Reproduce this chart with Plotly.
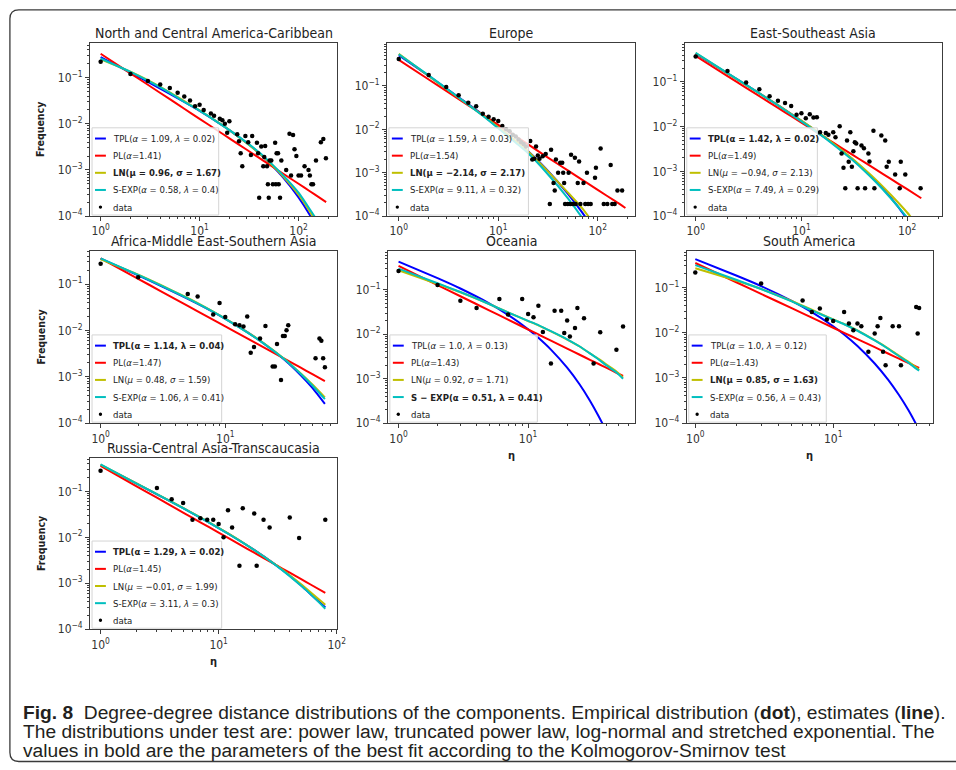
import plotly.graph_objects as go

W, H = 956, 770

# ------------------------------------------------------------------ data
TITLES = ["North and Central America-Caribbean", "Europe", "East-Southeast Asia",
          "Africa-Middle East-Southern Asia", "Oceania", "South America",
          "Russia-Central Asia-Transcaucasia"]

FIT_NAMES = ["TPL", "PL", "LN", "S-EXP"]
FIT_COLORS = ["#0000ff", "#ff0000", "#bfbf00", "#00bfbf"]

# --- North and Central America-Caribbean
NCA_DOT_X = [1, 2, 3, 4, 5, 6, 7, 8, 9, 10, 11, 13, 14, 16, 17, 18, 19, 20, 24, 25, 26, 27, 29, 31, 33, 34,
             38, 39, 40, 42, 44, 45, 46, 48, 49, 50, 51, 53, 55, 58, 59, 60, 62, 63, 65, 67, 75, 81, 84, 88,
             91, 95, 100, 106, 115, 126, 130, 135, 140, 150, 168, 178, 189]
NCA_DOT_Y = [0.22, 0.12, 0.085, 0.071, 0.060, 0.047, 0.039, 0.032, 0.024, 0.026, 0.020, 0.0167, 0.015,
             0.0128, 0.012, 0.010, 0.0064, 0.0114, 0.0059, 0.0042, 0.0023, 0.0012, 0.0054, 0.0040, 0.0021,
             0.0054, 0.0039, 0.0023, 0.00025, 0.0032, 0.0012, 0.0019, 0.0033, 0.0012, 0.00049, 0.00025,
             0.0016, 0.0016, 0.00049, 0.0039, 0.00049, 0.0023, 0.0023, 0.00049, 0.00025, 0.0016, 0.001,
             0.0061, 0.00076, 0.0057, 0.0028, 0.002, 0.00076, 0.00076, 0.0012, 0.001, 0.00076, 0.00049,
             0.00049, 0.0016, 0.0040, 0.0047, 0.0018]
NCA_FIT_X = [1, 2, 3, 5, 7, 10, 15, 20, 30, 40, 50, 70, 100, 130, 160, 190]
NCA_TPL = [0.279, 0.129, 0.0811, 0.0446, 0.0297, 0.019, 0.011, 0.0073, 0.00384, 0.0023, 0.00147, 0.000685,
           0.000254, 0.000105, 0.000046, 0.000021]
NCA_PL = [0.33, 0.124, 0.0701, 0.0341, 0.0212, 0.0128, 0.00725, 0.00483, 0.00273, 0.00182, 0.00133,
          0.000826, 0.0005, 0.000345, 0.000257, 0.0002]
NCA_LN = [0.25, 0.135, 0.088, 0.048, 0.031, 0.0195, 0.0111, 0.0073, 0.0038, 0.0023, 0.0015, 0.00072,
          0.00029, 0.000125, 0.000058, 0.000028]
NCA_SEXP = [0.26, 0.133, 0.086, 0.047, 0.030, 0.0192, 0.011, 0.0073, 0.0039, 0.0024, 0.00155, 0.00076,
            0.00032, 0.00014, 0.00007, 0.000035]

# --- Europe
EUR_DOT_X = [1, 2, 3, 4, 5, 6, 7, 8, 9, 10, 11, 12, 13, 14, 15, 16, 17, 18, 19, 21, 22, 23, 24, 25, 26, 28,
             30, 33, 34, 36, 37, 38, 40, 42, 44, 45, 46, 47, 50, 51, 53, 54, 56, 59, 60, 63, 65, 67, 72, 75,
             78, 80, 85, 94, 96, 107, 115, 125, 135, 140, 148, 158, 176]
EUR_DOT_Y = [0.42, 0.18, 0.095, 0.061, 0.041, 0.034, 0.023, 0.0196, 0.017, 0.0155, 0.012, 0.010, 0.009,
             0.0075, 0.0068, 0.0058, 0.005, 0.0046, 0.004, 0.0054, 0.002, 0.0021, 0.004, 0.0025, 0.0021,
             0.0024, 0.0027, 0.00019, 0.0034, 0.00058, 0.00039, 0.002, 0.001, 0.0017, 0.0017, 0.001,
             0.00058, 0.00019, 0.00019, 0.001, 0.00019, 0.0026, 0.00019, 0.0022, 0.00019, 0.00058, 0.0018,
             0.00019, 0.00058, 0.00019, 0.001, 0.00019, 0.00019, 0.00076, 0.0013, 0.0036, 0.00019,
             0.00019, 0.0015, 0.00019, 0.00019, 0.00039, 0.00039]
EUR_FIT_X = [1, 2, 3, 5, 7, 10, 15, 20, 30, 50, 70, 100, 150, 190]
EUR_TPL = [0.51, 0.17, 0.088, 0.038, 0.0215, 0.011, 0.0053, 0.0031, 0.00125, 0.00033, 0.00012, 0.000035,
           0.000007, 0.000002]
EUR_PL = [0.40, 0.141, 0.077, 0.0358, 0.0216, 0.0127, 0.0069, 0.0045, 0.0024, 0.00113, 0.00068, 0.0004,
          0.00022, 0.000153]
EUR_LN = [0.55, 0.17, 0.086, 0.037, 0.021, 0.0112, 0.0054, 0.0031, 0.00122, 0.00035, 0.00015, 0.00005,
          0.000013, 0.000006]
EUR_SEXP = [0.54, 0.175, 0.088, 0.037, 0.0205, 0.0106, 0.0049, 0.0028, 0.00105, 0.00026, 0.00009,
            0.000025, 0.000004, 0.000001]

# --- East-Southeast Asia
ESA_DOT_X = [1, 2, 3, 4, 5, 6, 7, 8, 9, 10, 11, 12, 13, 14, 15, 17, 18, 20, 21, 23, 24, 25, 26, 27, 28, 29,
             30, 31, 32, 33, 34, 37, 39, 40, 43, 44, 48, 49, 57, 62, 64, 67, 77, 85, 87, 96, 134]
ESA_DOT_Y = [0.37, 0.175, 0.097, 0.069, 0.048, 0.038, 0.034, 0.029, 0.0185, 0.02, 0.0154, 0.019, 0.016,
             0.0163, 0.0075, 0.0072, 0.0066, 0.0075, 0.0058, 0.0102, 0.0025, 0.0012, 0.00042, 0.0049,
             0.00163, 0.0075, 0.00126, 0.0028, 0.0045, 0.0042, 0.00042, 0.0038, 0.0033, 0.00042, 0.0025,
             0.00166, 0.0081, 0.00042, 0.0063, 0.0049, 0.00126, 0.00163, 0.00085, 0.00042, 0.00163,
             0.00085, 0.00042]
ESA_FIT_X = [1, 2, 3, 5, 7, 10, 15, 20, 30, 40, 50, 70, 100, 136]
ESA_TPL = [0.426, 0.156, 0.086, 0.040, 0.0238, 0.0135, 0.00689, 0.00414, 0.00191, 0.00104, 0.000619,
           0.000257, 0.000085, 0.000027]
ESA_PL = [0.38, 0.135, 0.074, 0.0345, 0.0209, 0.0123, 0.00672, 0.00438, 0.00239, 0.00156, 0.00112,
          0.000677, 0.000398, 0.00025]
ESA_LN = [0.44, 0.155, 0.085, 0.040, 0.0238, 0.0136, 0.0070, 0.0042, 0.00196, 0.00109, 0.00067, 0.0003,
          0.00012, 0.000048]
ESA_SEXP = [0.45, 0.158, 0.086, 0.0395, 0.0233, 0.0131, 0.0067, 0.004, 0.00183, 0.00099, 0.00059,
            0.00025, 0.000092, 0.000035]

# --- Africa-Middle East-Southern Asia
AFR_DOT_X = [1, 2, 5, 6, 8, 9, 10, 12, 13, 14, 15, 16, 17, 19, 21, 24, 25, 26, 28, 29, 30, 31, 32, 53, 57,
             59, 61, 63]
AFR_DOT_Y = [0.276, 0.14, 0.061, 0.054, 0.022, 0.039, 0.0195, 0.0136, 0.013, 0.0122, 0.020, 0.0033,
             0.0044, 0.0067, 0.0124, 0.00166, 0.00166, 0.0051, 0.00085, 0.0076, 0.0076, 0.0101, 0.013,
             0.0025, 0.0067, 0.006, 0.0025, 0.0016]
AFR_FIT_X = [1, 2, 3, 5, 7, 10, 15, 20, 30, 40, 50, 63]
AFR_TPL = [0.353, 0.154, 0.0931, 0.048, 0.0302, 0.0178, 0.0092, 0.0054, 0.00229, 0.0011, 0.000575, 0.00026]
AFR_PL = [0.36, 0.130, 0.0716, 0.0338, 0.0206, 0.0122, 0.00672, 0.0044, 0.00243, 0.00159, 0.00114, 0.00081]
AFR_LN = [0.34, 0.16, 0.097, 0.05, 0.031, 0.018, 0.0092, 0.0055, 0.0024, 0.0012, 0.00068, 0.00036]
AFR_SEXP = [0.36, 0.158, 0.095, 0.049, 0.0305, 0.0178, 0.0091, 0.0054, 0.00235, 0.00118, 0.00065, 0.00033]

# --- Oceania
OCE_DOT_X = [1, 2, 3, 4, 6, 7, 9, 10, 11, 12, 13, 15, 16, 18, 19, 20, 21, 23, 24, 27, 32, 36, 48, 54]
OCE_DOT_Y = [0.265, 0.129, 0.057, 0.039, 0.062, 0.0277, 0.062, 0.0285, 0.024, 0.044, 0.0112, 0.0022,
             0.034, 0.034, 0.0107, 0.0203, 0.0089, 0.0139, 0.039, 0.0229, 0.0022, 0.0111, 0.0045, 0.0149]
OCE_FIT_X = [1, 2, 3, 5, 7, 10, 12, 15, 20, 25, 30, 35, 40, 48, 54]
OCE_TPL = [0.43, 0.183, 0.107, 0.0496, 0.0273, 0.01295, 0.0083, 0.0045, 0.00177, 0.00074, 0.00032,
           0.000143, 0.000066, 0.0000193, 0.0000079]
OCE_PL = [0.345, 0.128, 0.0717, 0.0346, 0.02135, 0.0128, 0.00988, 0.00718, 0.00476, 0.00346, 0.00266,
          0.00214, 0.00177, 0.00136, 0.00115]
OCE_LN = [0.275, 0.135, 0.088, 0.048, 0.031, 0.0198, 0.0158, 0.0116, 0.0076, 0.0053, 0.0037, 0.0028,
          0.0021, 0.00145, 0.00105]
OCE_SEXP = [0.30, 0.14, 0.089, 0.048, 0.031, 0.0200, 0.0160, 0.0117, 0.0077, 0.0053, 0.0037, 0.0027,
            0.0020, 0.00138, 0.001]

# --- South America
SAM_DOT_X = [1, 3, 6, 7, 8, 9, 10, 12, 13, 14, 15, 16, 18, 20, 21, 22, 23, 24, 27, 30, 31, 40, 41, 42]
SAM_DOT_Y = [0.213, 0.122, 0.051, 0.0285, 0.034, 0.0194, 0.018, 0.0285, 0.0158, 0.0113, 0.0158, 0.0138,
             0.0038, 0.0095, 0.0138, 0.021, 0.0038, 0.0019, 0.0138, 0.0138, 0.0019, 0.0366, 0.0095, 0.035]
SAM_FIT_X = [1, 2, 3, 5, 7, 10, 12, 15, 20, 25, 30, 35, 40, 42]
SAM_TPL = [0.42, 0.18, 0.1067, 0.0503, 0.0283, 0.0138, 0.0091, 0.00506, 0.00208, 0.000914, 0.000418,
           0.000197, 0.000094, 0.00007]
SAM_PL = [0.345, 0.128, 0.0717, 0.0346, 0.02135, 0.0128, 0.00988, 0.00718, 0.00476, 0.00346, 0.00266,
          0.00214, 0.00177, 0.00165]
SAM_LN = [0.265, 0.14, 0.092, 0.05, 0.032, 0.0195, 0.0155, 0.0112, 0.0068, 0.0045, 0.0031, 0.0023, 0.0017,
          0.0015]
SAM_SEXP = [0.31, 0.145, 0.092, 0.049, 0.031, 0.0193, 0.0153, 0.011, 0.0067, 0.0044, 0.003, 0.0022,
            0.0016, 0.00145]

# --- Russia-Central Asia-Transcaucasia
RUS_DOT_X = [1, 3, 4, 5, 6, 7, 8, 9, 10, 11, 12, 13, 15, 16, 20, 21, 24, 27, 40, 48, 80]
RUS_DOT_Y = [0.28, 0.118, 0.067, 0.056, 0.024, 0.026, 0.024, 0.024, 0.0194, 0.01, 0.039, 0.0164, 0.0024,
             0.0427, 0.033, 0.0024, 0.024, 0.0164, 0.027, 0.0097, 0.024]
RUS_FIT_X = [1, 2, 3, 5, 7, 10, 15, 20, 30, 40, 50, 60, 80]
RUS_TPL = [0.371, 0.1488, 0.0864, 0.043, 0.0268, 0.0159, 0.00852, 0.00532, 0.00258, 0.00146, 0.000896,
           0.000579, 0.0003]
RUS_PL = [0.357, 0.1306, 0.0726, 0.0346, 0.02125, 0.01267, 0.00703, 0.00463, 0.00257, 0.0017, 0.00123,
          0.00094, 0.00062]
RUS_LN = [0.38, 0.15, 0.087, 0.0435, 0.027, 0.016, 0.0086, 0.0053, 0.0026, 0.0015, 0.00095, 0.00064,
          0.00034]
RUS_SEXP = [0.385, 0.15, 0.087, 0.0432, 0.0268, 0.0159, 0.0085, 0.0053, 0.00255, 0.00143, 0.00088,
            0.00058, 0.00028]

LEGEND_LABELS = [
    ["TPL(<i>α</i> = 1.09, <i>λ</i> = 0.02)", "PL(<i>α</i>=1.41)",
     "<b>LN(μ = 0.96, σ = 1.67)</b>", "S-EXP(<i>α</i> = 0.58, <i>λ</i> = 0.4)", "data"],
    ["TPL(<i>α</i> = 1.59, <i>λ</i> = 0.03)", "PL(<i>α</i>=1.54)",
     "<b>LN(μ = −2.14, σ = 2.17)</b>", "S-EXP(<i>α</i> = 9.11, <i>λ</i> = 0.32)", "data"],
    ["<b>TPL(α = 1.42, λ = 0.02)</b>", "PL(<i>α</i>=1.49)",
     "LN(<i>μ</i> = −0.94, <i>σ</i> = 2.13)", "S-EXP(<i>α</i> = 7.49, <i>λ</i> = 0.29)", "data"],
    ["<b>TPL(α = 1.14, λ = 0.04)</b>", "PL(<i>α</i>=1.47)",
     "LN(<i>μ</i> = 0.48, <i>σ</i> = 1.59)", "S-EXP(<i>α</i> = 1.06, <i>λ</i> = 0.41)", "data"],
    ["TPL(<i>α</i> = 1.0, <i>λ</i> = 0.13)", "PL(<i>α</i>=1.43)",
     "LN(<i>μ</i> = 0.92, <i>σ</i> = 1.71)", "<b>S − EXP(α = 0.51, λ = 0.41)</b>", "data"],
    ["TPL(<i>α</i> = 1.0, <i>λ</i> = 0.12)", "PL(<i>α</i>=1.43)",
     "<b>LN(μ = 0.85, σ = 1.63)</b>", "S-EXP(<i>α</i> = 0.56, <i>λ</i> = 0.43)", "data"],
    ["<b>TPL(α = 1.29, λ = 0.02)</b>", "PL(<i>α</i>=1.45)",
     "LN(<i>μ</i> = −0.01, <i>σ</i> = 1.99)", "S-EXP(<i>α</i> = 3.11, <i>λ</i> = 0.3)", "data"],
]

X_TICKS = [1, 10, 100]
X_TICKTEXT = ["10<sup>0</sup>", "10<sup>1</sup>", "10<sup>2</sup>"]
Y_TICKS = [1e-4, 1e-3, 1e-2, 1e-1]
Y_TICKTEXT = ["10<sup>−4</sup>", "10<sup>−3</sup>", "10<sup>−2</sup>", "10<sup>−1</sup>"]

CAPTION = [
    "<b>Fig. 8</b>\u00a0\u00a0Degree-degree distance distributions of the components. Empirical distribution "
    "(<b>dot</b>), estimates (<b>line</b>).",
    "The distributions under test are: power law, truncated power law, log-normal and stretched exponential. The",
    "values in bold are the parameters of the best fit according to the Kolmogorov-Smirnov test",
]

DOT_X = [NCA_DOT_X, EUR_DOT_X, ESA_DOT_X, AFR_DOT_X, OCE_DOT_X, SAM_DOT_X, RUS_DOT_X]
DOT_Y = [NCA_DOT_Y, EUR_DOT_Y, ESA_DOT_Y, AFR_DOT_Y, OCE_DOT_Y, SAM_DOT_Y, RUS_DOT_Y]
FIT_X = [NCA_FIT_X, EUR_FIT_X, ESA_FIT_X, AFR_FIT_X, OCE_FIT_X, SAM_FIT_X, RUS_FIT_X]
FIT_Y = [
    [NCA_TPL, NCA_PL, NCA_LN, NCA_SEXP],
    [EUR_TPL, EUR_PL, EUR_LN, EUR_SEXP],
    [ESA_TPL, ESA_PL, ESA_LN, ESA_SEXP],
    [AFR_TPL, AFR_PL, AFR_LN, AFR_SEXP],
    [OCE_TPL, OCE_PL, OCE_LN, OCE_SEXP],
    [SAM_TPL, SAM_PL, SAM_LN, SAM_SEXP],
    [RUS_TPL, RUS_PL, RUS_LN, RUS_SEXP],
]

# ------------------------------------------------------------------ layout geometry (pixels)
AX_BOX = [(90, 43, 340, 218), (390, 43, 641, 218), (691, 43, 951, 218),
          (90, 253, 340, 427), (391, 253, 641, 427), (693, 253, 942, 427),
          (90, 462, 340, 635)]
X_RANGE = [(-0.107, 2.393), (-0.119, 2.378), (-0.103, 2.33), (-0.085, 1.90),
           (-0.082, 1.827), (-0.062, 1.725), (-0.089, 2.006)]
Y_TOP = [-0.24, 0.0, -0.12, -0.28, -0.12, -0.19, -0.27]
LEG_W = [128, 141, 132, 131, 149, 139, 131]
LEG_OFF = [77.2, 59.9, 42.6, 25.3, 8.0]

MINOR_X = [m * d for d in (1, 10, 100) for m in range(2, 10)]
MINOR_Y = [m * d for d in (1e-4, 1e-3, 1e-2, 1e-1) for m in range(2, 10)]

COND = "DejaVu Sans Condensed, DejaVu Sans, sans-serif"
AXC = "#3c3c3c"


def px(x):
    return x / W


def py(y):
    return 1 - y / H


fig = go.Figure()
layout = dict(width=W, height=H, margin=dict(l=0, r=0, t=0, b=0), autosize=False,
              paper_bgcolor="white", plot_bgcolor="white", showlegend=False)
annotations = []
shapes = []

for i in range(7):
    l, t, r, b = AX_BOX[i]
    sfx = "" if i == 0 else str(i + 1)
    xa, ya = "x" + sfx, "y" + sfx
    axis_common = dict(type="log", showgrid=False, zeroline=False, showline=True, mirror=True,
                       linecolor=AXC, linewidth=1, ticks="outside", ticklen=4, tickwidth=1,
                       tickcolor=AXC, tickfont=dict(family=COND, size=12, color="#333"))
    layout["xaxis" + sfx] = dict(axis_common, domain=[px(l), px(r)], anchor=ya, range=list(X_RANGE[i]),
                                 tickmode="array", tickvals=X_TICKS, ticktext=X_TICKTEXT,
                                 minor=dict(tickmode="array", tickvals=MINOR_X, ticks="outside",
                                            ticklen=2, tickwidth=0.8, tickcolor=AXC))
    layout["yaxis" + sfx] = dict(axis_common, domain=[py(b), py(t)], anchor=xa, range=[-4, Y_TOP[i]],
                                 tickmode="array", tickvals=Y_TICKS, ticktext=Y_TICKTEXT,
                                 minor=dict(tickmode="array", tickvals=MINOR_Y, ticks="outside",
                                            ticklen=2, tickwidth=0.8, tickcolor=AXC))

    for k in range(4):
        fig.add_trace(go.Scatter(x=FIT_X[i], y=FIT_Y[i][k], mode="lines", name=FIT_NAMES[k],
                                 line=dict(color=FIT_COLORS[k], width=2, shape="spline", smoothing=0.5),
                                 xaxis=xa, yaxis=ya, hoverinfo="skip"))
    fig.add_trace(go.Scatter(x=DOT_X[i], y=DOT_Y[i], mode="markers", name="data",
                             marker=dict(color="black", size=4.5), xaxis=xa, yaxis=ya))

    # panel title
    annotations.append(dict(text=TITLES[i], x=px((l + r) / 2), y=py(t - 10), xref="paper", yref="paper",
                            xanchor="center", yanchor="middle", showarrow=False,
                            font=dict(family=COND, size=14, color="#222")))

    # manual legend box (matplotlib style, lower left)
    L, B = l + 2, b - 1
    T, R = B - 88, L + LEG_W[i]
    shapes.append(dict(type="rect", xref="paper", yref="paper", x0=px(L), x1=px(R), y0=py(B), y1=py(T),
                       fillcolor="rgba(255,255,255,0.8)", line=dict(color="#d4d4d4", width=1)))
    for k in range(5):
        yc = B - LEG_OFF[k]
        if k < 4:
            shapes.append(dict(type="line", xref="paper", yref="paper", x0=px(L + 3), x1=px(L + 14),
                               y0=py(yc), y1=py(yc), line=dict(color=FIT_COLORS[k], width=2)))
        else:
            shapes.append(dict(type="circle", xref="paper", yref="paper", x0=px(L + 6.8), x1=px(L + 10.2),
                               y0=py(yc - 1.7), y1=py(yc + 1.7), fillcolor="black",
                               line=dict(color="black", width=0)))
        annotations.append(dict(text=LEGEND_LABELS[i][k], x=px(L + 19), y=py(yc), xref="paper",
                                yref="paper", xanchor="left", yanchor="middle", showarrow=False,
                                font=dict(family=COND, size=9.5, color="#222")))

# axis labels
for t in (130.5, 340, 548.5):
    annotations.append(dict(text="<b>Frequency</b>", x=px(40), y=py(t), xref="paper", yref="paper",
                            textangle=-90, showarrow=False, xanchor="center", yanchor="middle",
                            font=dict(family=COND, size=10.5, color="#222")))
for (xc, yc) in ((516, 460), (817.5, 460), (215, 668)):
    annotations.append(dict(text="<b>η</b>", x=px(xc), y=py(yc), xref="paper", yref="paper",
                            showarrow=False, xanchor="center", yanchor="middle",
                            font=dict(family=COND, size=11, color="#222")))

# caption
CAP_FONT = "Liberation Sans, Arial, sans-serif"
for j, yc in enumerate((719, 738, 757)):
    annotations.append(dict(text=CAPTION[j], x=px(20), y=py(yc), xref="paper", yref="paper",
                            xanchor="left", yanchor="middle", showarrow=False,
                            font=dict(family=CAP_FONT, size=19.2, color="#231f20")))

# rounded frame around the figure
x0, y0, y1, r_ = 9, 10, 768.5, 9
path = (f"M {px(980)},{py(y0)} L {px(x0 + r_)},{py(y0)} Q {px(x0)},{py(y0)} {px(x0)},{py(y0 + r_)} "
        f"L {px(x0)},{py(y1 - r_)} Q {px(x0)},{py(y1)} {px(x0 + r_)},{py(y1)} L {px(980)},{py(y1)}")
shapes.append(dict(type="path", xref="paper", yref="paper", path=path, line=dict(color="#3a3a3a", width=1.3)))

layout["annotations"] = annotations
layout["shapes"] = shapes
fig.update_layout(**layout)
fig.write_html("out.html")
